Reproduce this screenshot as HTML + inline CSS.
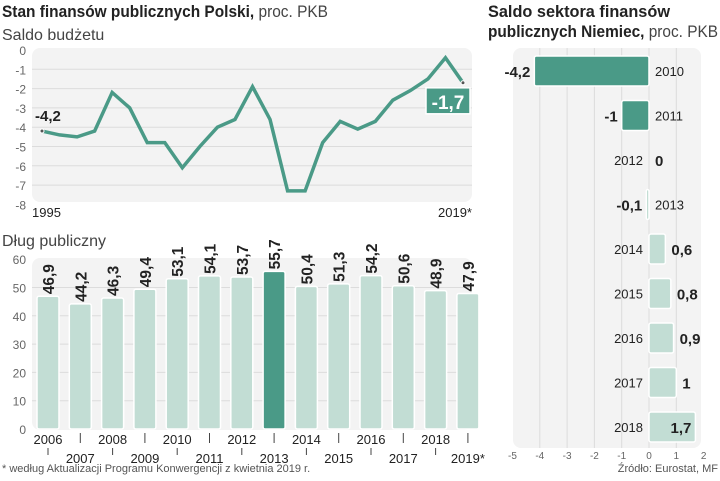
<!DOCTYPE html>
<html><head><meta charset="utf-8"><style>
body{margin:0;width:720px;height:476px;background:#fff;overflow:hidden;font-family:"Liberation Sans",sans-serif;}
svg text{font-family:"Liberation Sans",sans-serif;}
</style></head><body>
<svg id="s" width="720" height="476">
<text x="2" y="17" font-size="16.5" font-weight="bold" fill="#222" textLength="326" lengthAdjust="spacingAndGlyphs">Stan finansów publicznych Polski,<tspan font-weight="normal" fill="#444"> proc. PKB</tspan></text>
<text x="2" y="40" font-size="16" fill="#444">Saldo budżetu</text>
<rect x="32" y="48" width="440" height="154" rx="8" fill="#f3f3f3"/>
<text x="2" y="246" font-size="16" fill="#444">Dług publiczny</text>
<rect x="32" y="258" width="440" height="172" rx="8" fill="#f3f3f3"/>
<text x="488" y="17" font-size="16.5" font-weight="bold" fill="#222" textLength="182" lengthAdjust="spacingAndGlyphs">Saldo sektora finansów</text>
<text x="488" y="37" font-size="16.5" font-weight="bold" fill="#222" textLength="230" lengthAdjust="spacingAndGlyphs">publicznych Niemiec,<tspan font-weight="normal" fill="#444"> proc. PKB</tspan></text>
<rect x="513" y="48" width="188" height="400" rx="8" fill="#f3f3f3"/>
<text x="2" y="472" font-size="11" fill="#555">* według Aktualizacji Programu Konwergencji z kwietnia 2019 r.</text>
<text x="718" y="472" font-size="11" fill="#555" text-anchor="end">Źródło: Eurostat, MF</text>
<g id="g"></g>
</svg>
<script>
const budgetYears=["1995","2019*"];
const budgetValues=[-4.2,-4.4,-4.5,-4.2,-2.2,-3.0,-4.8,-4.8,-6.1,-5.0,-4.0,-3.6,-1.9,-3.6,-7.3,-7.3,-4.8,-3.7,-4.1,-3.7,-2.6,-2.1,-1.5,-0.4,-1.7];
const budgetTicks=[0,-1,-2,-3,-4,-5,-6,-7,-8];
const debtYears=["2006","2007","2008","2009","2010","2011","2012","2013","2014","2015","2016","2017","2018","2019*"];
const debtValues=[46.9,44.2,46.3,49.4,53.1,54.1,53.7,55.7,50.4,51.3,54.2,50.6,48.9,47.9];
const debtTicks=[0,10,20,30,40,50,60];
const deYears=["2010","2011","2012","2013","2014","2015","2016","2017","2018"];
const deValues=[-4.2,-1,0,-0.1,0.6,0.8,0.9,1,1.7];
const deTicks=[-5,-4,-3,-2,-1,0,1,2];
const G=document.getElementById('g');const NS='http://www.w3.org/2000/svg';
function mk(t,a,txt){const e=document.createElementNS(NS,t);for(const k in a)e.setAttribute(k,a[k]);if(txt!==undefined)e.textContent=txt;G.appendChild(e);return e;}
const fmt=v=>String(v).replace('.',',');
const C='#4a9a87',L='#c2ddd4';
const lx=i=>42+i*(463-42)/(budgetValues.length-1), ly=v=>50-v*19.3;
budgetTicks.forEach(t=>{
 if(t!==0&&t!==-8){const l=mk('line',{x1:32,x2:472,y1:ly(t),y2:ly(t),stroke:'#dcdcdc'});}
 const e=mk('text',{x:26,y:ly(t)+5,'font-size':12,fill:'#666','text-anchor':'end'},String(t));
 
});
const p=mk('polyline',{points:budgetValues.map((v,i)=>lx(i)+','+ly(v)).join(' '),fill:'none',stroke:C,'stroke-width':3.5,'stroke-linejoin':'miter'});

[0,budgetValues.length-1].forEach(i=>{const d=mk('circle',{cx:lx(i),cy:ly(budgetValues[i]),r:2,fill:'#555',stroke:'#fff'});});
let e=mk('text',{x:lx(0)-7,y:ly(budgetValues[0])-10,'font-size':15,'font-weight':'bold',fill:'#222'},fmt(budgetValues[0]));

const last=budgetValues.length-1;
e=mk('rect',{x:lx(last)-37,y:ly(budgetValues[last])+5,width:44,height:26,fill:C,stroke:'#fff','stroke-width':1.5});

e=mk('text',{x:lx(last)-15,y:ly(budgetValues[last])+26,'font-size':19,'font-weight':'bold',fill:'#fff','text-anchor':'middle'},fmt(budgetValues[last]));

e=mk('text',{x:32,y:217,'font-size':13,fill:'#222'},budgetYears[0]);
e=mk('text',{x:472,y:217,'font-size':13,fill:'#222','text-anchor':'end'},budgetYears[1]);
const bx=i=>48+i*32.3, by=v=>429-v*2.83;
debtTicks.forEach(t=>{
 if(t>0&&t<60){const l=mk('line',{x1:32,x2:472,y1:by(t),y2:by(t),stroke:'#dcdcdc'});}
 const e=mk('text',{x:26,y:by(t)+5,'font-size':12,fill:'#666','text-anchor':'end'},String(t));
 
});
debtValues.forEach((v,i)=>{
 const r=mk('rect',{x:bx(i)-11,y:by(v),width:22,height:by(0)-by(v),rx:2,fill:i===7?C:L,stroke:'#fff','stroke-width':1.5});
 
 const t=mk('text',{x:bx(i)+6,y:by(v)-2,'font-size':15.5,'font-weight':'bold',fill:'#222',transform:`rotate(-90 ${bx(i)+6} ${by(v)-2})`},fmt(v));
 
 const yl=i%2===0?439:458;
 const x=mk('text',{x:bx(i),y:yl+5,'font-size':13,fill:'#222','text-anchor':'middle'},debtYears[i]);
 
 const tk=mk('line',{x1:bx(i),x2:bx(i),y1:i%2===0?448:433,y2:i%2===0?455:443,stroke:'#444'});
 
});
const hx=v=>649+v*27.3, hy=i=>71+i*44.5;
deTicks.forEach(t=>{
 if(t>-5&&t<2){const l=mk('line',{x1:hx(t),x2:hx(t),y1:48,y2:448,stroke:'#dcdcdc'});}
 const e=mk('text',{x:hx(t),y:459,'font-size':10,fill:'#666','text-anchor':'middle'},String(t));
 
});
deValues.forEach((v,i)=>{
 const x0=Math.min(hx(0),hx(v)),w=Math.max(Math.abs(hx(v)-hx(0)),v===0?0:2);
 if(v!==0){const r=mk('rect',{x:x0,y:hy(i)-15,width:w,height:30,rx:2,fill:v<-0.5?C:L,stroke:'#fff','stroke-width':1.5});
 }
 const neg=v<0;
 const yl=mk('text',{x:neg?hx(0)+6:hx(0)-6,y:hy(i)+5,'font-size':13,fill:'#222','text-anchor':neg?'start':'end'},deYears[i]);
 
 const inside=v>1.5;
 const vl=mk('text',{x:neg?hx(v)-4:(inside?hx(v)-4:hx(v)+6),y:hy(i)+6,'font-size':15,'font-weight':'bold',fill:'#222','text-anchor':neg||inside?'end':'start'},fmt(v));
 
});
</script>
</body></html>
